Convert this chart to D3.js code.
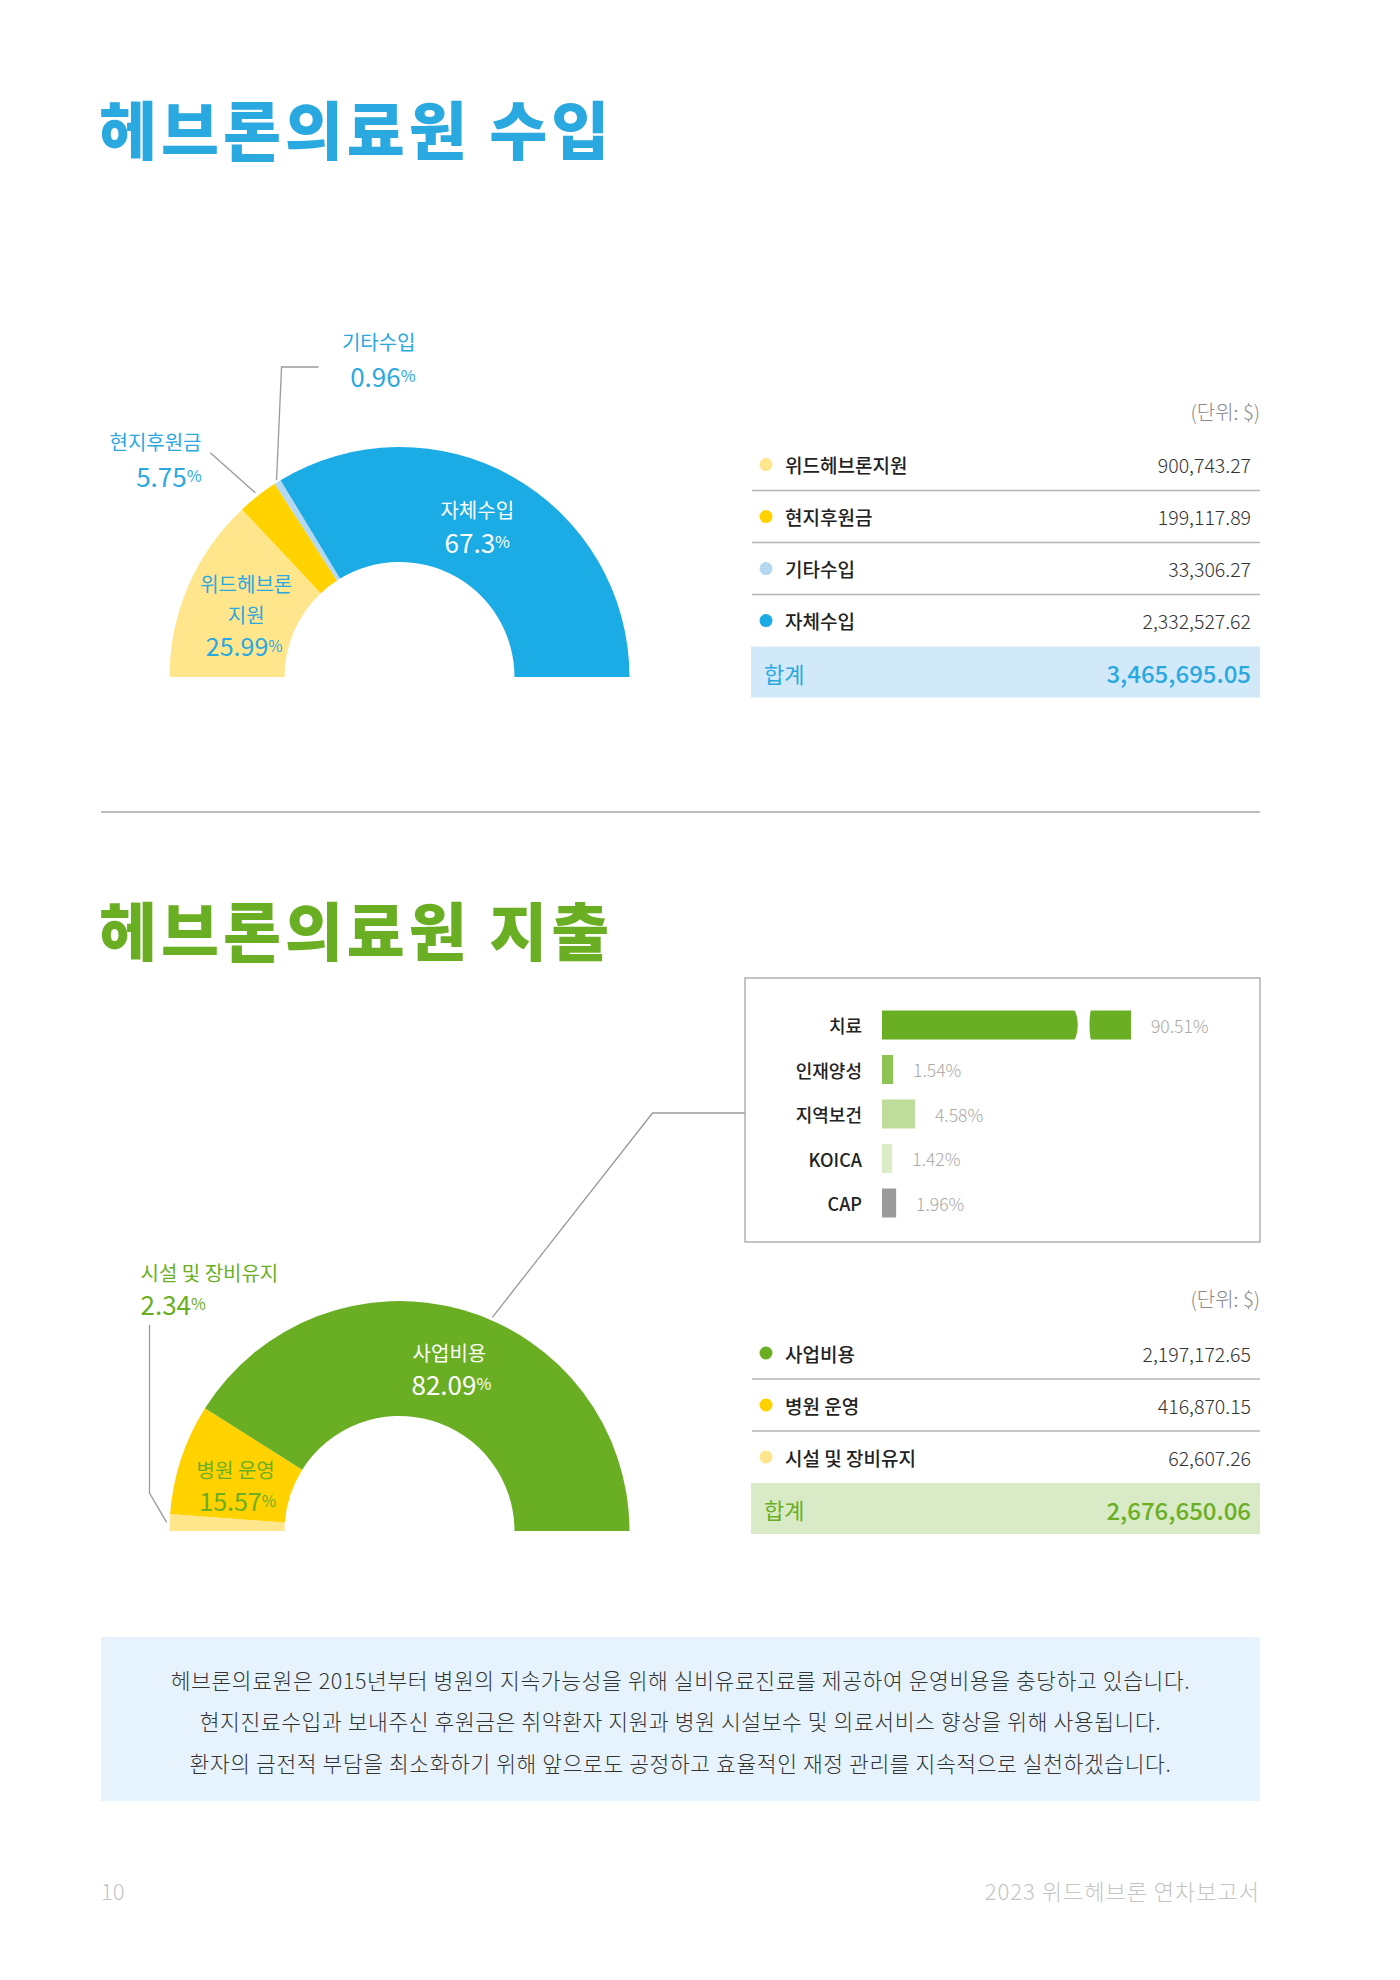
<!DOCTYPE html>
<html>
<head>
<meta charset="utf-8">
<title>헤브론의료원 수입 · 지출</title>
<style>
  body { margin: 0; background: #fff; }
  svg { display: block; font-family: "Noto Sans CJK KR", "Noto Sans", sans-serif; }
</style>
</head>
<body>
<svg width="1400" height="1980"></svg>

<script src="https://cdnjs.cloudflare.com/ajax/libs/d3/7.8.5/d3.min.js"></script>
<script>
    // 수입 (table order = order around the donut, left to right)
    const incomeLabels = ["위드헤브론지원", "현지후원금", "기타수입", "자체수입"];
    const incomeAmounts = [900743.27, 199117.89, 33306.27, 2332527.62];
    const incomeShares = [25.99, 5.75, 0.96, 67.3];
    const incomeColors = ["#FFE68C", "#FFD200", "#B4D8F2", "#1BACE6"];

    // 지출 (table order; the donut runs the other way)
    const expenseLabels = ["사업비용", "병원 운영", "시설 및 장비유지"];
    const expenseAmounts = [2197172.65, 416870.15, 62607.26];
    const expenseShares = [82.09, 15.57, 2.34];
    const expenseColors = ["#6AAF23", "#FFD200", "#FFE68C"];

    // 사업비용 breakdown
    const projectItems = ["치료", "인재양성", "지역보건", "KOICA", "CAP"];
    const projectShares = [90.51, 1.54, 4.58, 1.42, 1.96];
    const projectColors = ["#6AAF23", "#8DC454", "#C0DC9C", "#DDECC8", "#9B9B9B"];

    const noteLines = [
        "헤브론의료원은 2015년부터 병원의 지속가능성을 위해 실비유료진료를 제공하여 운영비용을 충당하고 있습니다.",
        "현지진료수입과 보내주신 후원금은 취약환자 지원과 병원 시설보수 및 의료서비스 향상을 위해 사용됩니다.",
        "환자의 금전적 부담을 최소화하기 위해 앞으로도 공정하고 효율적인 재정 관리를 지속적으로 실천하겠습니다."
    ];

    const blue = "#2AA8E0", green = "#6AAF23";
    const svg = d3.select("svg");
    const fmt = d3.format(",.2f");
    const left = 101, right = 1260;

    // ---------- titles ----------
    function title(y, text, color) {
        svg.append("text")
            .attr("x", left - 2).attr("y", y)
            .attr("dominant-baseline", "central")
            .style("font-size", "63px").style("font-weight", 900)
            .style("letter-spacing", "4px")
            .attr("fill", color)
            .text(text);
    }
    title(126, "헤브론의료원 수입", blue);
    title(927, "헤브론의료원 지출", green);

    svg.append("line")
        .attr("x1", left).attr("x2", right).attr("y1", 812).attr("y2", 812)
        .attr("stroke", "#bdbdbd").attr("stroke-width", 2);

    // ---------- donuts ----------
    const outerR = 230, innerR = 115;
    const arc = d3.arc().innerRadius(innerR).outerRadius(outerR);
    const pie = d3.pie().sort(null).value(d => d.share)
        .startAngle(-Math.PI / 2).endAngle(Math.PI / 2);

    function drawDonut(cx, cy, rows) {
        const g = svg.append("g").attr("transform", `translate(${cx},${cy})`);
        const arcs = pie(rows);
        g.selectAll("path").data(arcs).enter().append("path")
            .attr("d", arc)
            .attr("fill", d => d.data.color);
        return { g, arcs };
    }
    const onArc = (a, r) => [r * Math.sin(a), -r * Math.cos(a)];
    const midA = d => (d.startAngle + d.endAngle) / 2;

    function pctText(g, x, y, value, color, anchor, size) {
        const t = g.append("text")
            .attr("x", x).attr("y", y)
            .attr("text-anchor", anchor)
            .attr("dominant-baseline", "central")
            .attr("fill", color)
            .style("font-size", size + "px").style("font-weight", 400);
        t.append("tspan").text(value);
        t.append("tspan").style("font-size", (size * 0.62) + "px").text("%");
        return t;
    }
    function nameText(g, x, y, text, color, anchor) {
        g.append("text")
            .attr("x", x).attr("y", y)
            .attr("text-anchor", anchor)
            .attr("dominant-baseline", "central")
            .attr("fill", color)
            .style("font-size", "20px")
            .text(text);
    }

    // income donut
    const incomeRows = incomeLabels.map((l, i) => ({ label: l, share: incomeShares[i], color: incomeColors[i] }));
    const inc = drawDonut(399.5, 677, incomeRows);
    {
        const [own, other, local, wd] = [inc.arcs[3], inc.arcs[2], inc.arcs[1], inc.arcs[0]];
        const c = arc.centroid(own);
        nameText(inc.g, c[0] - 7, c[1] - 17, "자체수입", "#fff", "middle");
        pctText(inc.g, c[0] - 7, c[1] + 14, own.data.share, "#fff", "middle", 26);

        const w = arc.centroid(wd);
        nameText(inc.g, w[0] + 5, w[1] - 25, "위드헤브론", blue, "middle");
        nameText(inc.g, w[0] + 5, w[1] + 6, "지원", blue, "middle");
        pctText(inc.g, w[0] + 3, w[1] + 36, wd.data.share, blue, "middle", 25);

        // 기타수입 leader
        const p = onArc(midA(other), outerR + 2);
        inc.g.append("polyline")
            .attr("points", [p, [p[0] + 5, -310], [p[0] + 42, -310]].join(" "))
            .attr("fill", "none").attr("stroke", "#9a9a9a").attr("stroke-width", 1.3);
        nameText(inc.g, 16, -336, "기타수입", blue, "end");
        pctText(inc.g, 16, -302, other.data.share, blue, "end", 26);

        // 현지후원금 leader
        const q = onArc(midA(local), outerR + 4);
        inc.g.append("line")
            .attr("x1", q[0]).attr("y1", q[1]).attr("x2", q[0] - 45).attr("y2", q[1] - 40)
            .attr("stroke", "#9a9a9a").attr("stroke-width", 1.3);
        nameText(inc.g, -198, -236, "현지후원금", blue, "end");
        pctText(inc.g, -198, -202, local.data.share, blue, "end", 26);
    }

    // expense donut (drawn from the smallest item on the left)
    const expenseRows = expenseLabels.map((l, i) => ({ label: l, share: expenseShares[i], color: expenseColors[i] })).reverse();
    const exp = drawDonut(399.5, 1531, expenseRows);
    {
        const [fac, hosp, proj] = exp.arcs;
        const c = arc.centroid(proj);
        nameText(exp.g, c[0] + 2, c[1] - 13, "사업비용", "#fff", "middle");
        pctText(exp.g, c[0] + 4, c[1] + 18, proj.data.share, "#fff", "middle", 26);

        const h = arc.centroid(hosp);
        nameText(exp.g, h[0] + 0, h[1] - 8, "병원 운영", green, "middle");
        pctText(exp.g, h[0] + 2, h[1] + 23, hosp.data.share, green, "middle", 25);

        // 시설 및 장비유지 leader
        const p = onArc(midA(fac), outerR + 3);
        exp.g.append("polyline")
            .attr("points", [p, [-250, -38], [-250, -206]].join(" "))
            .attr("fill", "none").attr("stroke", "#9a9a9a").attr("stroke-width", 1.3);
        nameText(exp.g, -259, -259, "시설 및 장비유지", green, "start");
        pctText(exp.g, -259, -228, fac.data.share, green, "start", 26);

        // leader to the 사업비용 breakdown box
        const s = onArc(0.41, outerR + 3);
        exp.g.append("polyline")
            .attr("points", [s, [253, -418], [345.5, -418]].join(" "))
            .attr("fill", "none").attr("stroke", "#9a9a9a").attr("stroke-width", 1.3);
    }

    // ---------- tables ----------
    function drawTable(unitY, top, labels, amounts, colors, band, totalColor) {
        const g = svg.append("g");
        const rowH = 52;
        const y = d3.scaleBand().domain(labels).range([top, top + labels.length * rowH]);

        g.append("text")
            .attr("x", right).attr("y", unitY)
            .attr("text-anchor", "end").attr("dominant-baseline", "central")
            .attr("fill", "#8a8a8a").style("font-size", "20px").style("font-weight", 300)
            .text("(단위: $)");

        const row = g.selectAll(".row").data(labels).enter().append("g")
            .attr("transform", d => `translate(0,${y(d) + y.bandwidth() / 2})`);
        row.append("circle").attr("cx", 766).attr("r", 6.5)
            .attr("fill", (d, i) => colors[i]);
        row.append("text")
            .attr("x", 785).attr("dominant-baseline", "central")
            .attr("fill", "#222").style("font-size", "19px").style("font-weight", 500)
            .text(d => d);
        row.append("text")
            .attr("x", 1251).attr("text-anchor", "end").attr("dominant-baseline", "central")
            .attr("fill", "#333").style("font-size", "19.5px").style("font-weight", 300)
            .text((d, i) => fmt(amounts[i]));
        row.filter((d, i) => i < labels.length - 1).append("line")
            .attr("x1", 752).attr("x2", right)
            .attr("y1", rowH / 2).attr("y2", rowH / 2)
            .attr("stroke", "#b4b4b4").attr("stroke-width", 1.5);

        const bandY = top + labels.length * rowH;
        g.append("rect")
            .attr("x", 751).attr("y", bandY).attr("width", right - 751).attr("height", 51)
            .attr("fill", band);
        g.append("text")
            .attr("x", 764).attr("y", bandY + 26).attr("dominant-baseline", "central")
            .attr("fill", totalColor).style("font-size", "22px")
            .text("합계");
        g.append("text")
            .attr("x", 1251).attr("y", bandY + 26)
            .attr("text-anchor", "end").attr("dominant-baseline", "central")
            .attr("fill", totalColor).style("font-size", "24px").style("font-weight", 500)
            .text(fmt(d3.sum(amounts)));
    }
    drawTable(411.5, 438.6, incomeLabels, incomeAmounts, incomeColors, "#D2E9FA", blue);
    drawTable(1298, 1327, expenseLabels, expenseAmounts, expenseColors, "#D8EAC6", green);

    // ---------- 사업비용 breakdown bars ----------
    {
        const box = { x: 745, y: 978, w: 515, h: 264 };
        const g = svg.append("g");
        g.append("rect")
            .attr("x", box.x).attr("y", box.y).attr("width", box.w).attr("height", box.h)
            .attr("fill", "#fff").attr("stroke", "#b0b0b0").attr("stroke-width", 1.5);

        const x0 = 882;
        const x = d3.scaleLinear().domain([0, 5]).range([0, 36]);
        const breakLimit = 20, brokenLen = 249; // 치료 is drawn as a broken bar
        const len = v => v > breakLimit ? brokenLen : x(v);
        const y = d3.scalePoint().domain(projectItems).range([1025, 1203]);
        const barH = 29;

        g.selectAll(".cat").data(projectItems).enter().append("text")
            .attr("x", 862).attr("y", d => y(d))
            .attr("text-anchor", "end").attr("dominant-baseline", "central")
            .attr("fill", "#222").style("font-size", "18px").style("font-weight", 500)
            .text(d => d);

        g.selectAll(".bar").data(projectItems).enter().append("rect")
            .attr("x", x0).attr("y", d => y(d) - barH / 2)
            .attr("width", (d, i) => len(projectShares[i])).attr("height", barH)
            .attr("fill", (d, i) => projectColors[i]);

        g.selectAll(".val").data(projectItems).enter().append("text")
            .attr("x", (d, i) => x0 + len(projectShares[i]) + 20)
            .attr("y", d => y(d))
            .attr("dominant-baseline", "central")
            .attr("fill", "#a8a8a8").style("font-size", "17.5px").style("font-weight", 300)
            .text((d, i) => projectShares[i] + "%");

        // wavy break in the long bar
        projectItems.forEach((d, i) => {
            if (projectShares[i] <= breakLimit) return;
            const t = y(d) - barH / 2 - 1, b = y(d) + barH / 2 + 1, m = y(d);
            const a = x0 + 192, c = a + 17, bulge = 5;
            g.append("path")
                .attr("d", `M${a},${t} C${a + bulge},${m - 8} ${a + bulge},${m + 8} ${a},${b}
                    L${c},${b} C${c - bulge * 0.4},${m + 8} ${c - bulge * 0.4},${m - 8} ${c},${t} Z`)
                .attr("fill", "#fff");
        });
    }

    // ---------- note box ----------
    svg.append("rect")
        .attr("x", left).attr("y", 1637).attr("width", right - left).attr("height", 164)
        .attr("fill", "#E7F3FC");
    svg.selectAll(".note").data(noteLines).enter().append("text")
        .attr("x", (left + right) / 2).attr("y", (d, i) => 1679 + i * 41.5)
        .attr("text-anchor", "middle").attr("dominant-baseline", "central")
        .attr("fill", "#333").style("font-size", "21.5px").style("font-weight", 300)
        .style("letter-spacing", "0.6px")
        .text(d => d);

    // ---------- footer ----------
    svg.append("text")
        .attr("x", left).attr("y", 1890).attr("dominant-baseline", "central")
        .attr("fill", "#c4c4c4").style("font-size", "22px").style("font-weight", 300)
        .text("10");
    svg.append("text")
        .attr("x", right).attr("y", 1890)
        .attr("text-anchor", "end").attr("dominant-baseline", "central")
        .attr("fill", "#c4c4c4").style("font-size", "22px").style("font-weight", 300)
        .style("letter-spacing", "1px")
        .text("2023 위드헤브론 연차보고서");
</script>
</body>
</html>
